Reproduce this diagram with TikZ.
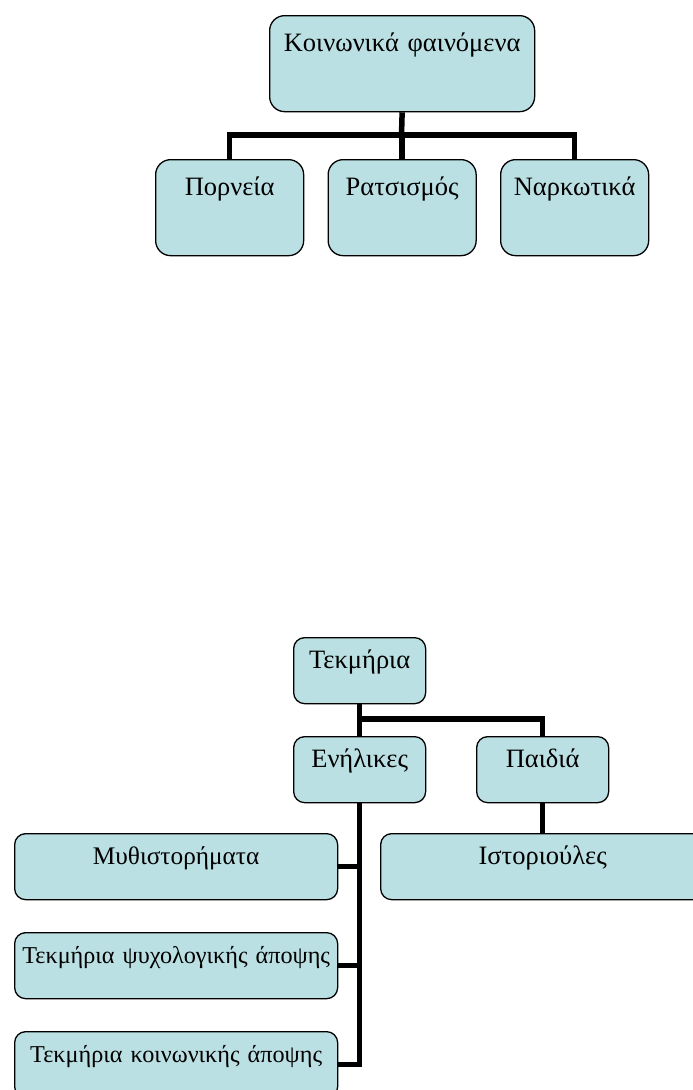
\documentclass[tikz,border=0pt]{standalone}
\usepackage{fontspec}
\setmainfont{Liberation Serif}
\definecolor{boxfill}{HTML}{BBE0E3}
\tikzset{
  box/.style={draw=black, line width=1.3pt, fill=boxfill, anchor=north west,
    inner xsep=0pt, inner ysep=0pt, align=center,
    font=\fontsize{26.5}{30}\selectfont},
  bigbox/.style={box, rounded corners=15pt, text height=36pt, text depth=60pt},
  smallbox/.style={box, rounded corners=11pt, text height=31pt, text depth=35pt},
  conn/.style={line width=5.5pt, black, line join=miter}
}
\begin{document}
\begin{tikzpicture}[x=1pt,y=-1pt]
\useasboundingbox (0,0) rectangle (693,1090);
\clip (0,0) rectangle (693,1090);
% top diagram
\node[bigbox, text width=265pt] (k) at (269,15) {Κοινωνικά φαινόμενα};
\node[bigbox, text width=148pt] (p) at (155,159) {Πορνεία};
\node[bigbox, text width=148pt] (r) at (327.5,159) {Ρατσισμός};
\node[bigbox, text width=148pt] (n) at (500,159) {Ναρκωτικά};
\coordinate (kbus) at (401.5,135);
\draw[conn] (k.south) -- (kbus);
\draw[conn] (p.north) |- (kbus);
\draw[conn] (n.north) |- (kbus);
\draw[conn] (r.north) -- (r.north |- kbus);
% bottom diagram
\node[smallbox, text width=132pt] (t) at (293,637) {Τεκμήρια};
\node[smallbox, text width=132pt] (e) at (293,736) {Ενήλικες};
\node[smallbox, text width=132pt] (c) at (476,736) {Παιδιά};
\node[smallbox, text width=324pt] (i) at (380,833) {Ιστοριούλες};
\node[smallbox, text width=323pt, font=\fontsize{25.3}{30}\selectfont] (m) at (14,833) {Μυθιστορήματα};
\node[smallbox, text width=323pt, font=\fontsize{24.2}{30}\selectfont] (s) at (14,932) {Τεκμήρια ψυχολογικής άποψης};
\node[smallbox, text width=323pt, font=\fontsize{24.2}{30}\selectfont] (q) at (14,1031) {Τεκμήρια κοινωνικής άποψης};
\coordinate (tbus) at (359,719);
\draw[conn] (t.south) -- (e.north);
\draw[conn] (tbus) -| (c.north);
\draw[conn] (c.south) -- (i.north);
\draw[conn] (e.south) |- (q.east);
\draw[conn] (m.east) -- (m.east -| e.south);
\draw[conn] (s.east) -- (s.east -| e.south);
\end{tikzpicture}
\end{document}
